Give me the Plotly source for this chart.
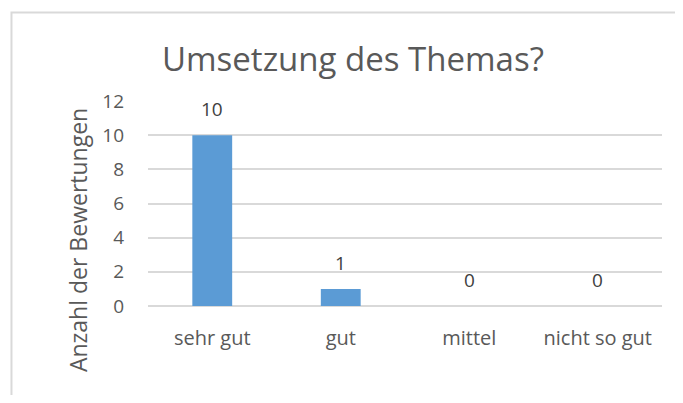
import plotly.graph_objects as go

categories = ["sehr gut", "gut", "mittel", "nicht so gut"]
values = [10, 1, 0, 0]
y_ticks = [0, 2, 4, 6, 8, 10, 12]
title = "Umsetzung des Themas?"
y_title = "Anzahl der Bewertungen"

FONT = "Open Sans"
TXT = "#595959"
GRID = "#d9d9d9"

fig = go.Figure()
fig.add_trace(go.Bar(
    x=categories, y=values,
    marker=dict(color="#5B9BD5", line=dict(width=0)),
    width=0.31,
    hoverinfo="x+y",
))

for c, v in zip(categories, values):
    fig.add_annotation(x=c, y=v, xref="x", yref="y", text=str(v), showarrow=False,
                       yanchor="middle", yshift=26,
                       font=dict(family=FONT, size=19, color="#404040"))

fig.add_annotation(x=0.398, y=1.208, xref="paper", yref="paper", text=title, showarrow=False,
                   xanchor="center", yanchor="middle",
                   font=dict(family=FONT, size=33, color=TXT))
fig.add_annotation(x=-0.136, y=0.322, xref="paper", yref="paper", text=y_title, showarrow=False,
                   textangle=-90, xanchor="center", yanchor="middle",
                   font=dict(family=FONT, size=23, color=TXT))

fig.add_shape(type="rect", xref="paper", yref="paper",
              x0=-0.2656, y0=-0.6, x1=1.3, y1=1.432,
              line=dict(color=GRID, width=2), fillcolor="rgba(0,0,0,0)", layer="below")

fig.update_layout(
    width=667, height=387,
    margin=dict(l=140, r=13, t=93, b=89),
    paper_bgcolor="white", plot_bgcolor="white",
    showlegend=False,
    font=dict(family=FONT, color=TXT, size=16),
    xaxis=dict(showgrid=False, showline=False, zeroline=False, ticks="",
               tickfont=dict(family=FONT, size=20, color=TXT), ticklabelstandoff=18),
    yaxis=dict(range=[0, 12], tickvals=y_ticks, showgrid=True, gridcolor=GRID, gridwidth=1.5,
               zeroline=True, zerolinecolor=GRID, zerolinewidth=1.5, showline=False, ticks="",
               tickfont=dict(family=FONT, size=19, color=TXT), ticklabelstandoff=23),
)

fig.write_html("out.html")
